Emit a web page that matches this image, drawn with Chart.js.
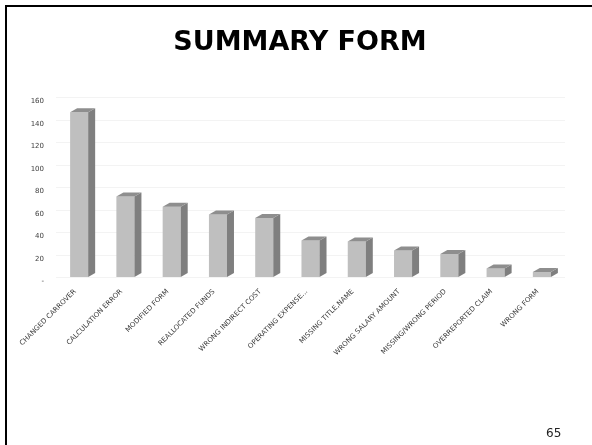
<!DOCTYPE html>
<html>
<head>
<meta charset="utf-8">
<script src="https://cdn.jsdelivr.net/npm/chart.js@4.4.0/dist/chart.umd.min.js"></script>
<style>
    html, body { margin: 0; padding: 0; background: #fff; overflow: hidden; }
    #slide { position: relative; width: 592px; height: 445px; overflow: hidden; }
    .rule { position: absolute; background: #000; }
    #ruleTop { left: 5px; top: 5px; width: 587px; height: 2px; }
    #ruleLeft { left: 5px; top: 5px; width: 2px; height: 440px; }
    #title { position: absolute; left: 0; width: 600px; top: 27px; text-align: center; font: bold 27px/27px "DejaVu Sans", sans-serif; color: #000; }
    #pageNum { position: absolute; left: 546px; top: 427px; font: 12px/12px "DejaVu Sans", sans-serif; color: #222; }
    #chart { position: absolute; left: 0; top: 0; }
</style>
</head>
<body>
<div id="slide">
    <canvas id="chart" width="592" height="445"></canvas>
    <div class="rule" id="ruleTop"></div>
    <div class="rule" id="ruleLeft"></div>
    <div id="title">SUMMARY FORM</div>
    <div id="pageNum">65</div>
</div>
<script>
const categories = [
    "CHANGED CARROVER",
    "CALCULATION ERROR",
    "MODIFIED FORM",
    "REALLOCATED FUNDS",
    "WRONG INDIRECT COST",
    "OPERATING EXPENSE...",
    "MISSING TITLE,NAME",
    "WRONG SALARY AMOUNT",
    "MISSING/WRONG PERIOD",
    "OVERREPORTED CLAIM",
    "WRONG FORM"
];
const counts = [147, 72, 63, 56, 53, 33, 32, 24, 21, 8, 5];
const yMax = 160;
const yStep = 20;

const FRONT_COLOR = "#bfbfbf";
const SIDE_COLOR = "#7f7f7f";
const TOP_COLOR = "#8e8e8e";
const DEPTH_X = 7;
const DEPTH_Y = 4;

// fake 3D: side and top faces hung on the bar elements Chart.js laid out
const bar3d = {
    id: "bar3d",
    afterDatasetsDraw(chart) {
        const ctx = chart.ctx;
        chart.getDatasetMeta(0).data.forEach(bar => {
            const { x, y, base, width } = bar.getProps(["x", "y", "base", "width"], true);
            const left = x - width / 2;
            const right = x + width / 2;
            ctx.save();
            ctx.fillStyle = SIDE_COLOR;
            ctx.beginPath();
            ctx.moveTo(right, y);
            ctx.lineTo(right + DEPTH_X, y - DEPTH_Y);
            ctx.lineTo(right + DEPTH_X, base - DEPTH_Y);
            ctx.lineTo(right, base);
            ctx.closePath();
            ctx.fill();
            ctx.fillStyle = TOP_COLOR;
            ctx.beginPath();
            ctx.moveTo(left, y);
            ctx.lineTo(left + DEPTH_X, y - DEPTH_Y);
            ctx.lineTo(right + DEPTH_X, y - DEPTH_Y);
            ctx.lineTo(right, y);
            ctx.closePath();
            ctx.fill();
            ctx.restore();
        });
    }
};

new Chart(document.getElementById("chart"), {
    type: "bar",
    data: {
        labels: categories,
        datasets: [{
            data: counts,
            backgroundColor: FRONT_COLOR,
            borderWidth: 0,
            categoryPercentage: 1,
            barPercentage: 0.39
        }]
    },
    options: {
        responsive: false,
        animation: false,
        layout: { padding: { top: 97.5, left: 0, right: 27, bottom: 0 } },
        plugins: {
            legend: { display: false },
            tooltip: { enabled: false }
        },
        scales: {
            x: {
                grid: { display: false },
                border: { display: false },
                ticks: {
                    autoSkip: false,
                    minRotation: 45,
                    maxRotation: 45,
                    padding: 2,
                    labelOffset: -4,
                    color: "#3a3a3a",
                    font: { family: "DejaVu Sans", size: 7 }
                },
                afterFit(scale) { scale.height = 445 - 277.5; }
            },
            y: {
                min: 0,
                max: yMax,
                grid: { color: "#f3f3f3", drawTicks: false },
                border: { display: false },
                ticks: {
                    stepSize: yStep,
                    padding: 12,
                    labelOffset: 4,
                    color: "#404040",
                    font: { family: "DejaVu Sans", size: 7 },
                    callback: value => value === 0 ? "-" : value
                },
                afterFit(scale) { scale.width = 56; }
            }
        }
    },
    plugins: [bar3d]
});
</script>
</body>
</html>
